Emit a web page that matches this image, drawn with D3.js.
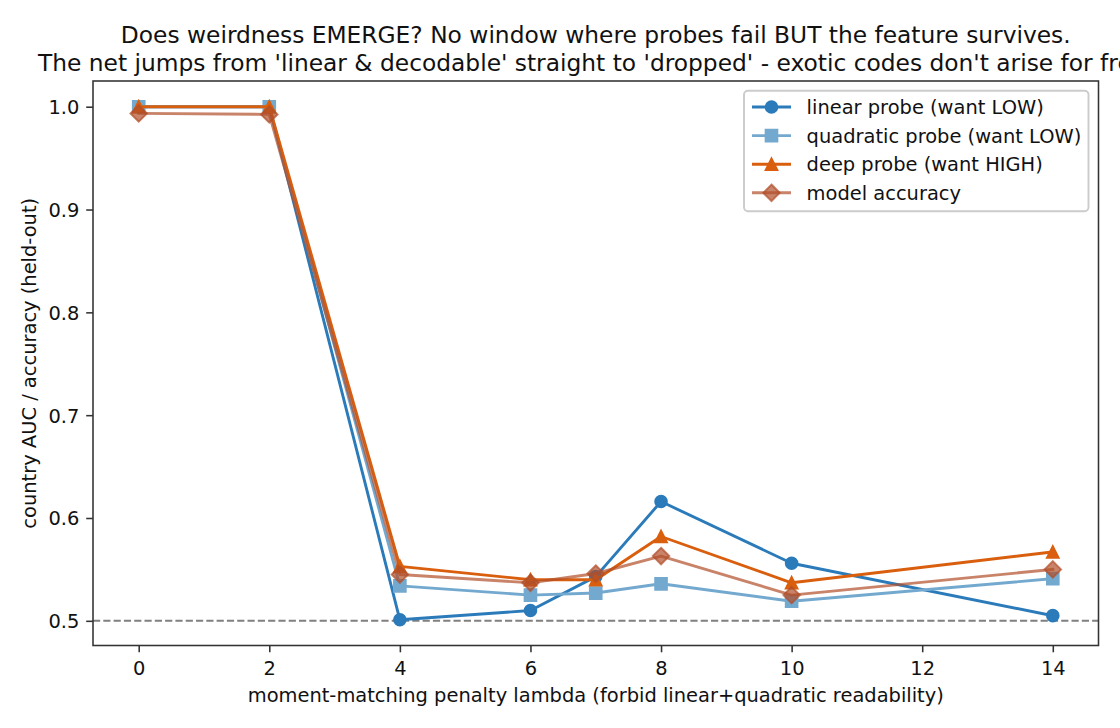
<!DOCTYPE html>
<html>
<head>
<meta charset="utf-8">
<script src="https://cdn.jsdelivr.net/npm/d3@7"></script>
<style>
  html, body { margin: 0; padding: 0; background: #fff; }
  svg { display: block; font-family: "DejaVu Sans", sans-serif; }
</style>
</head>
<body>
<svg id="chart" width="1120" height="728"></svg>
<script>
// ---- data ----
const lambdas = [0, 2, 4, 6, 7, 8, 10, 14];
const linearProbe = [1.000, 1.000, 0.501, 0.510, 0.543, 0.616, 0.556, 0.505];
const quadraticProbe = [1.000, 1.000, 0.534, 0.525, 0.527, 0.536, 0.519, 0.541];
const deepProbe = [1.000, 1.000, 0.553, 0.540, 0.540, 0.582, 0.537, 0.567];
const modelAccuracy = [0.9935, 0.9925, 0.545, 0.537, 0.546, 0.563, 0.525, 0.550];
const seriesNames = ["linear probe (want LOW)", "quadratic probe (want LOW)", "deep probe (want HIGH)", "model accuracy"];
const xTicks = [0, 2, 4, 6, 8, 10, 12, 14];
const yTicks = [0.5, 0.6, 0.7, 0.8, 0.9, 1.0];
const chanceLevel = 0.5;
const titleLines = [
  "Does weirdness EMERGE? No window where probes fail BUT the feature survives.",
  "The net jumps from 'linear & decodable' straight to 'dropped' - exotic codes don't arise for free."
];
const xLabel = "moment-matching penalty lambda (forbid linear+quadratic readability)";
const yLabel = "country AUC / accuracy (held-out)";

// ---- layout ----
const svg = d3.select("#chart");
const L = 93, R = 1098.5, T = 81, B = 645.5;
const FS = 19.44;
const x = d3.scaleLinear().domain([-0.7, 14.7]).range([L, R]);
const y = d3.scaleLinear().domain([0.4760, 1.0250]).range([B, T]);

const series = [
  { name: seriesNames[0], values: linearProbe, color: "#2b7bba", marker: "circle", opacity: 1 },
  { name: seriesNames[1], values: quadraticProbe, color: "#74a9cf", marker: "square", opacity: 1 },
  { name: seriesNames[2], values: deepProbe, color: "#d95f0e", marker: "triangle", opacity: 1 },
  { name: seriesNames[3], values: modelAccuracy, color: "#b04f2a", marker: "diamond", opacity: 0.7 }
];

const ms = 11.7; // marker size px
function markerPath(type) {
  const h = ms / 2;
  if (type === "circle") return d3.symbol(d3.symbolCircle, Math.PI * h * h)();
  if (type === "square") return `M${-h},${-h}L${h},${-h}L${h},${h}L${-h},${h}Z`;
  if (type === "triangle") return `M0,${-h}L${h},${h}L${-h},${h}Z`;
  if (type === "diamond") { const d = h * Math.SQRT2; return `M0,${-d}L${d},0L0,${d}L${-d},0Z`; }
}

// clip
svg.append("defs").append("clipPath").attr("id", "clip")
  .append("rect").attr("x", L).attr("y", T).attr("width", R - L).attr("height", B - T);

const plot = svg.append("g").attr("clip-path", "url(#clip)");

// chance line
plot.append("line")
  .attr("x1", L).attr("x2", R).attr("y1", y(chanceLevel)).attr("y2", y(chanceLevel))
  .attr("stroke", "#808080").attr("stroke-width", 1.94).attr("stroke-dasharray", "7.2,3.1");

const line = d3.line().x((d, i) => x(lambdas[i])).y(d => y(d));
series.forEach(s => {
  const g = plot.append("g");
  g.append("path").datum(s.values).attr("d", line)
    .attr("fill", "none").attr("stroke", s.color).attr("stroke-width", 2.9)
    .attr("stroke-opacity", s.opacity).attr("stroke-linejoin", "round").attr("stroke-linecap", "square");
  g.selectAll("path.m").data(s.values).enter().append("path").attr("class", "m")
    .attr("d", markerPath(s.marker))
    .attr("transform", (d, i) => `translate(${x(lambdas[i])},${y(d)})`)
    .attr("fill", s.color).attr("fill-opacity", s.opacity)
    .attr("stroke", s.color).attr("stroke-opacity", s.opacity).attr("stroke-width", 1.94);
});

// axes
const axColor = "#333333";
const xAxis = svg.append("g").attr("transform", `translate(0,${B})`)
  .call(d3.axisBottom(x).tickValues(xTicks).tickFormat(d3.format("d")).tickSize(6.8).tickPadding(6.8));
const yAxis = svg.append("g").attr("transform", `translate(${L},0)`)
  .call(d3.axisLeft(y).tickValues(yTicks).tickFormat(d3.format(".1f")).tickSize(6.8).tickPadding(6.8));
[xAxis, yAxis].forEach(a => {
  a.select(".domain").remove();
  a.selectAll(".tick line").attr("stroke", axColor).attr("stroke-width", 1.56);
  a.selectAll(".tick text").attr("fill", "#111").style("font-size", FS + "px")
    .style("font-family", "DejaVu Sans");
});
xAxis.selectAll(".tick text").attr("dy", null).attr("y", 29.5);
yAxis.selectAll(".tick text").attr("dy", null).attr("y", 7).attr("x", -13.6);

// spines
svg.append("rect").attr("x", L).attr("y", T).attr("width", R - L).attr("height", B - T)
  .attr("fill", "none").attr("stroke", axColor).attr("stroke-width", 1.56);

// labels
svg.append("text").attr("x", (L + R) / 2).attr("y", 702).attr("text-anchor", "middle")
  .style("font-size", FS + "px").attr("fill", "#111").text(xLabel);
svg.append("text").attr("transform", `translate(36,${(T + B) / 2}) rotate(-90)`).attr("text-anchor", "middle")
  .style("font-size", FS + "px").attr("fill", "#111").text(yLabel);

// title
titleLines.forEach((t, i) => {
  svg.append("text").attr("x", (L + R) / 2).attr("y", 43.3 + i * 27.2).attr("text-anchor", "middle")
    .style("font-size", "23.33px").attr("fill", "#111").text(t);
});

// legend
const lg = svg.append("g");
const lx = 744, ly = 90.7, lw = 344.5, lh = 120.5;
lg.append("rect").attr("x", lx).attr("y", ly).attr("width", lw).attr("height", lh)
  .attr("rx", 3.9).attr("fill", "#fff").attr("fill-opacity", 0.8)
  .attr("stroke", "#cccccc").attr("stroke-width", 1.94);
series.forEach((s, i) => {
  const cy = 107 + i * 28.6;
  const row = lg.append("g");
  row.append("line").attr("x1", 752).attr("x2", 791).attr("y1", cy).attr("y2", cy)
    .attr("stroke", s.color).attr("stroke-width", 2.9).attr("stroke-opacity", s.opacity);
  row.append("path").attr("d", markerPath(s.marker)).attr("transform", `translate(771.5,${cy})`)
    .attr("fill", s.color).attr("fill-opacity", s.opacity)
    .attr("stroke", s.color).attr("stroke-opacity", s.opacity).attr("stroke-width", 1.94);
  row.append("text").attr("x", 806.6).attr("y", cy + 7).style("font-size", FS + "px")
    .attr("fill", "#111").text(s.name);
});
</script>
</body>
</html>
